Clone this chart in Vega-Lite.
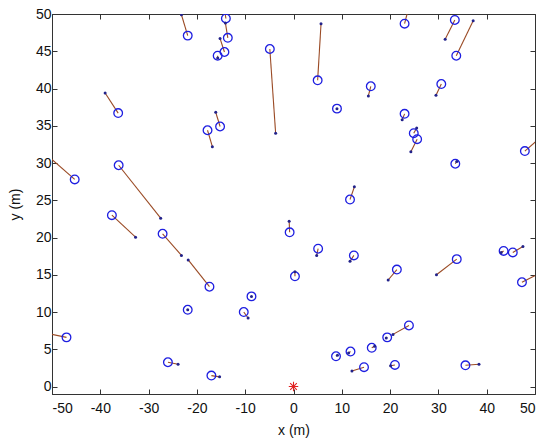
{
  "$schema": "https://vega.github.io/schema/vega-lite/v6.json",
  "autosize": {"type": "none"},
  "padding": {"left": 52, "top": 14, "right": 15, "bottom": 54},
  "width": 483,
  "height": 380,
  "background": "white",
  "config": {
    "view": {"stroke": "#333333", "strokeWidth": 1},
    "font": "Liberation Sans",
    "axis": {
      "grid": false,
      "domainColor": "#333333",
      "tickColor": "#333333",
      "tickSize": -5,
      "labelColor": "#111111",
      "titleColor": "#111111",
      "labelFont": "Liberation Sans",
      "titleFont": "Liberation Sans",
      "labelFontSize": 14,
      "titleFontSize": 14,
      "titleFontWeight": "normal"
    }
  },
  "datasets": {
    "pairs": [
      {"cx": -21.9, "cy": 47.1, "dx": -23.2, "dy": 49.9},
      {"cx": -14.0, "cy": 49.4, "dx": -14.3, "dy": 50.8},
      {"cx": -13.6, "cy": 46.8, "dx": -14.1, "dy": 48.8},
      {"cx": -15.7, "cy": 44.4, "dx": -15.7, "dy": 44.1},
      {"cx": -14.3, "cy": 44.9, "dx": -15.2, "dy": 46.7},
      {"cx": -4.9, "cy": 45.3, "dx": -3.7, "dy": 34.0},
      {"cx": -36.3, "cy": 36.7, "dx": -39.0, "dy": 39.4},
      {"cx": -17.8, "cy": 34.4, "dx": -16.8, "dy": 32.2},
      {"cx": -15.2, "cy": 34.9, "dx": -16.1, "dy": 36.8},
      {"cx": -45.3, "cy": 27.8, "dx": -52.5, "dy": 31.9},
      {"cx": -36.2, "cy": 29.7, "dx": -27.5, "dy": 22.6},
      {"cx": -37.6, "cy": 23.0, "dx": -32.7, "dy": 20.05},
      {"cx": -27.1, "cy": 20.5, "dx": -23.2, "dy": 17.6},
      {"cx": -17.4, "cy": 13.4, "dx": -21.8, "dy": 17.0},
      {"cx": -21.9, "cy": 10.3, "dx": -21.9, "dy": 10.3},
      {"cx": -8.7, "cy": 12.1, "dx": -8.7, "dy": 12.1},
      {"cx": -10.3, "cy": 10.0, "dx": -9.4, "dy": 9.2},
      {"cx": -47.0, "cy": 6.6, "dx": -52.5, "dy": 7.33},
      {"cx": -26.0, "cy": 3.26, "dx": -23.9, "dy": 3.0},
      {"cx": -17.0, "cy": 1.47, "dx": -15.3, "dy": 1.3},
      {"cx": 5.0, "cy": 41.1, "dx": 5.7, "dy": 48.7},
      {"cx": 16.0, "cy": 40.3, "dx": 15.5, "dy": 39.0},
      {"cx": 9.0, "cy": 37.3, "dx": 9.0, "dy": 37.3},
      {"cx": 23.0, "cy": 48.7, "dx": 23.9, "dy": 51.0},
      {"cx": 33.4, "cy": 49.2, "dx": 31.4, "dy": 46.6},
      {"cx": 33.7, "cy": 44.4, "dx": 37.2, "dy": 49.1},
      {"cx": 30.6, "cy": 40.6, "dx": 29.5, "dy": 39.1},
      {"cx": 23.0, "cy": 36.6, "dx": 22.5, "dy": 35.8},
      {"cx": 24.9, "cy": 34.0, "dx": 25.5, "dy": 34.7},
      {"cx": 25.6, "cy": 33.2, "dx": 24.3, "dy": 31.5},
      {"cx": 33.5, "cy": 29.9, "dx": 33.8, "dy": 30.2},
      {"cx": 47.9, "cy": 31.6, "dx": 51.5, "dy": 33.65},
      {"cx": 11.7, "cy": 25.1, "dx": 12.6, "dy": 26.8},
      {"cx": -0.8, "cy": 20.7, "dx": -0.9, "dy": 22.2},
      {"cx": 5.1, "cy": 18.5, "dx": 4.8, "dy": 17.6},
      {"cx": 12.5, "cy": 17.6, "dx": 11.7, "dy": 16.8},
      {"cx": 0.3, "cy": 14.8, "dx": 0.3, "dy": 15.4},
      {"cx": 21.4, "cy": 15.7, "dx": 19.6, "dy": 14.3},
      {"cx": 33.8, "cy": 17.1, "dx": 29.6, "dy": 15.0},
      {"cx": 43.5, "cy": 18.2, "dx": 43.0, "dy": 18.0},
      {"cx": 45.4, "cy": 18.0, "dx": 47.5, "dy": 18.8},
      {"cx": 47.3, "cy": 14.0, "dx": 51.5, "dy": 15.4},
      {"cx": 23.9, "cy": 8.2, "dx": 20.6, "dy": 7.0},
      {"cx": 19.4, "cy": 6.6, "dx": 19.2, "dy": 6.5},
      {"cx": 16.2, "cy": 5.2, "dx": 16.8, "dy": 5.4},
      {"cx": 11.8, "cy": 4.7, "dx": 11.4, "dy": 4.5},
      {"cx": 8.8, "cy": 4.06, "dx": 9.1, "dy": 4.2},
      {"cx": 14.6, "cy": 2.6, "dx": 12.1, "dy": 2.1},
      {"cx": 21.0, "cy": 2.9, "dx": 20.1, "dy": 2.8},
      {"cx": 35.6, "cy": 2.85, "dx": 38.4, "dy": 3.0}
    ],
    "origin": [{"x": 0, "y": 0}]
  },
  "data": {"name": "pairs"},
  "resolve": {"axis": {"x": "independent", "y": "independent"}},
  "layer": [
    {
      "mark": {"type": "rule", "color": "#9a4a24", "strokeWidth": 1.1, "clip": true},
      "encoding": {
        "x": {"field": "cx", "type": "quantitative", "scale": {"domain": [-50, 50], "nice": false, "zero": false},
              "axis": {"orient": "bottom", "title": "x (m)", "values": [-50, -40, -30, -20, -10, 0, 10, 20, 30, 40, 50], "labelExpr": "'' + datum.value", "labelPadding": 12, "titlePadding": 8}},
        "y": {"field": "cy", "type": "quantitative", "scale": {"domain": [-1, 50], "nice": false, "zero": false},
              "axis": {"orient": "left", "title": "y (m)", "values": [0, 5, 10, 15, 20, 25, 30, 35, 40, 45, 50], "labelExpr": "'' + datum.value", "labelPadding": 6, "titlePadding": 13}},
        "x2": {"field": "dx"},
        "y2": {"field": "dy"}
      }
    },
    {
      "mark": {"type": "point", "shape": "circle", "filled": false, "color": "#1e1ee0", "strokeWidth": 1.3, "size": 75, "opacity": 1, "clip": true},
      "encoding": {
        "x": {"field": "cx", "type": "quantitative",
              "axis": {"orient": "top", "labels": false, "title": null, "domain": false, "values": [-50, -40, -30, -20, -10, 0, 10, 20, 30, 40, 50]}},
        "y": {"field": "cy", "type": "quantitative",
              "axis": {"orient": "right", "labels": false, "title": null, "domain": false, "values": [0, 5, 10, 15, 20, 25, 30, 35, 40, 45, 50]}}
      }
    },
    {
      "mark": {"type": "point", "shape": "circle", "filled": true, "color": "#22228a", "size": 9, "opacity": 1, "clip": true},
      "encoding": {
        "x": {"field": "dx", "type": "quantitative", "axis": null},
        "y": {"field": "dy", "type": "quantitative", "axis": null}
      }
    },
    {
      "data": {"name": "origin"},
      "mark": {"type": "point", "shape": "M-1,0L1,0M0,-1L0,1M-0.7,-0.7L0.7,0.7M-0.7,0.7L0.7,-0.7", "filled": false, "color": "#e02020", "strokeWidth": 1.1, "size": 90, "opacity": 1},
      "encoding": {
        "x": {"field": "x", "type": "quantitative", "axis": null},
        "y": {"field": "y", "type": "quantitative", "axis": null}
      }
    }
  ]
}
